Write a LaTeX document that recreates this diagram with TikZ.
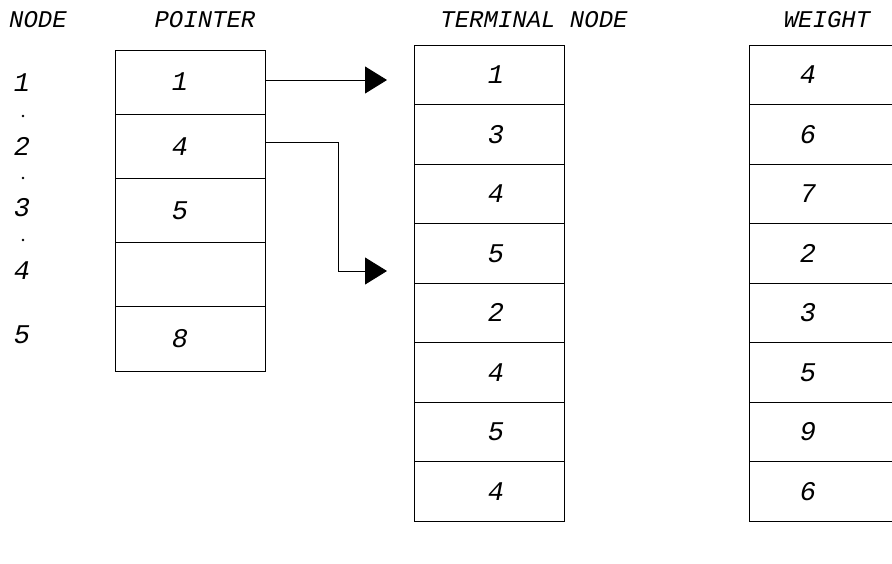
\documentclass[tikz,border=0pt]{standalone}
\usepackage{fontspec}
\setmonofont{Liberation Mono}
\usetikzlibrary{arrows.meta}
\tikzset{
  cell/.style={draw, line width=0.9pt, minimum width=150pt, inner sep=0pt},
  lbl/.style={font=\fontsize{24}{26}\selectfont\ttfamily\itshape, inner sep=0pt},
  num/.style={font=\fontsize{27}{29}\selectfont\ttfamily\itshape, inner sep=0pt},
  ptr/.style={line width=0.9pt, -{Triangle[length=22pt,width=27pt]}}
}
\begin{document}
\begin{tikzpicture}[x=1pt,y=-1pt]
\clip (0,0) rectangle (892,563);
% headings
\node[lbl] (hnode) at (38,20) {NODE};
\node[lbl] (hptr) at (205,20) {POINTER};
\node[lbl] (hterm) at (534,20) {TERMINAL NODE};
\node[lbl] (hweight) at (827,20) {WEIGHT};

% node numbers
\foreach \i/\y in {1/83,2/146,3/208,4/271,5/335}
  \node[num] (n\i) at (22,\y) {\i};
\foreach \y in {116,178,240}
  \fill (23,\y) circle (1.4);

% pointer array
\foreach \v [count=\i] in {1,4,5,{},8} {
  \node[cell, minimum height=64.2pt] (p\i) at (190,50+64.2*\i-32.1) {};
  \node[num] (pv\i) at ([xshift=-10pt]p\i.center) {\v};
}

% terminal node array
\foreach \v [count=\i] in {1,3,4,5,2,4,5,4} {
  \node[cell, minimum height=59.5pt] (t\i) at (489,45+59.5*\i-29.75) {};
  \node[num] (tv\i) at ([xshift=7pt]t\i.center) {\v};
}

% weight array
\foreach \v [count=\i] in {4,6,7,2,3,5,9,6} {
  \node[cell, minimum height=59.5pt] (w\i) at (824,45+59.5*\i-29.75) {};
  \node[num] (wv\i) at ([xshift=-16pt]w\i.center) {\v};
}

% pointers
\coordinate (tip1) at (387,80);
\coordinate (tip2) at (387,271);
\draw[ptr] (p1.east |- tip1) -- (tip1);
\draw[ptr] ([yshift=4pt]p2.east) -- ++(73,0) |- (tip2);
\end{tikzpicture}
\end{document}
